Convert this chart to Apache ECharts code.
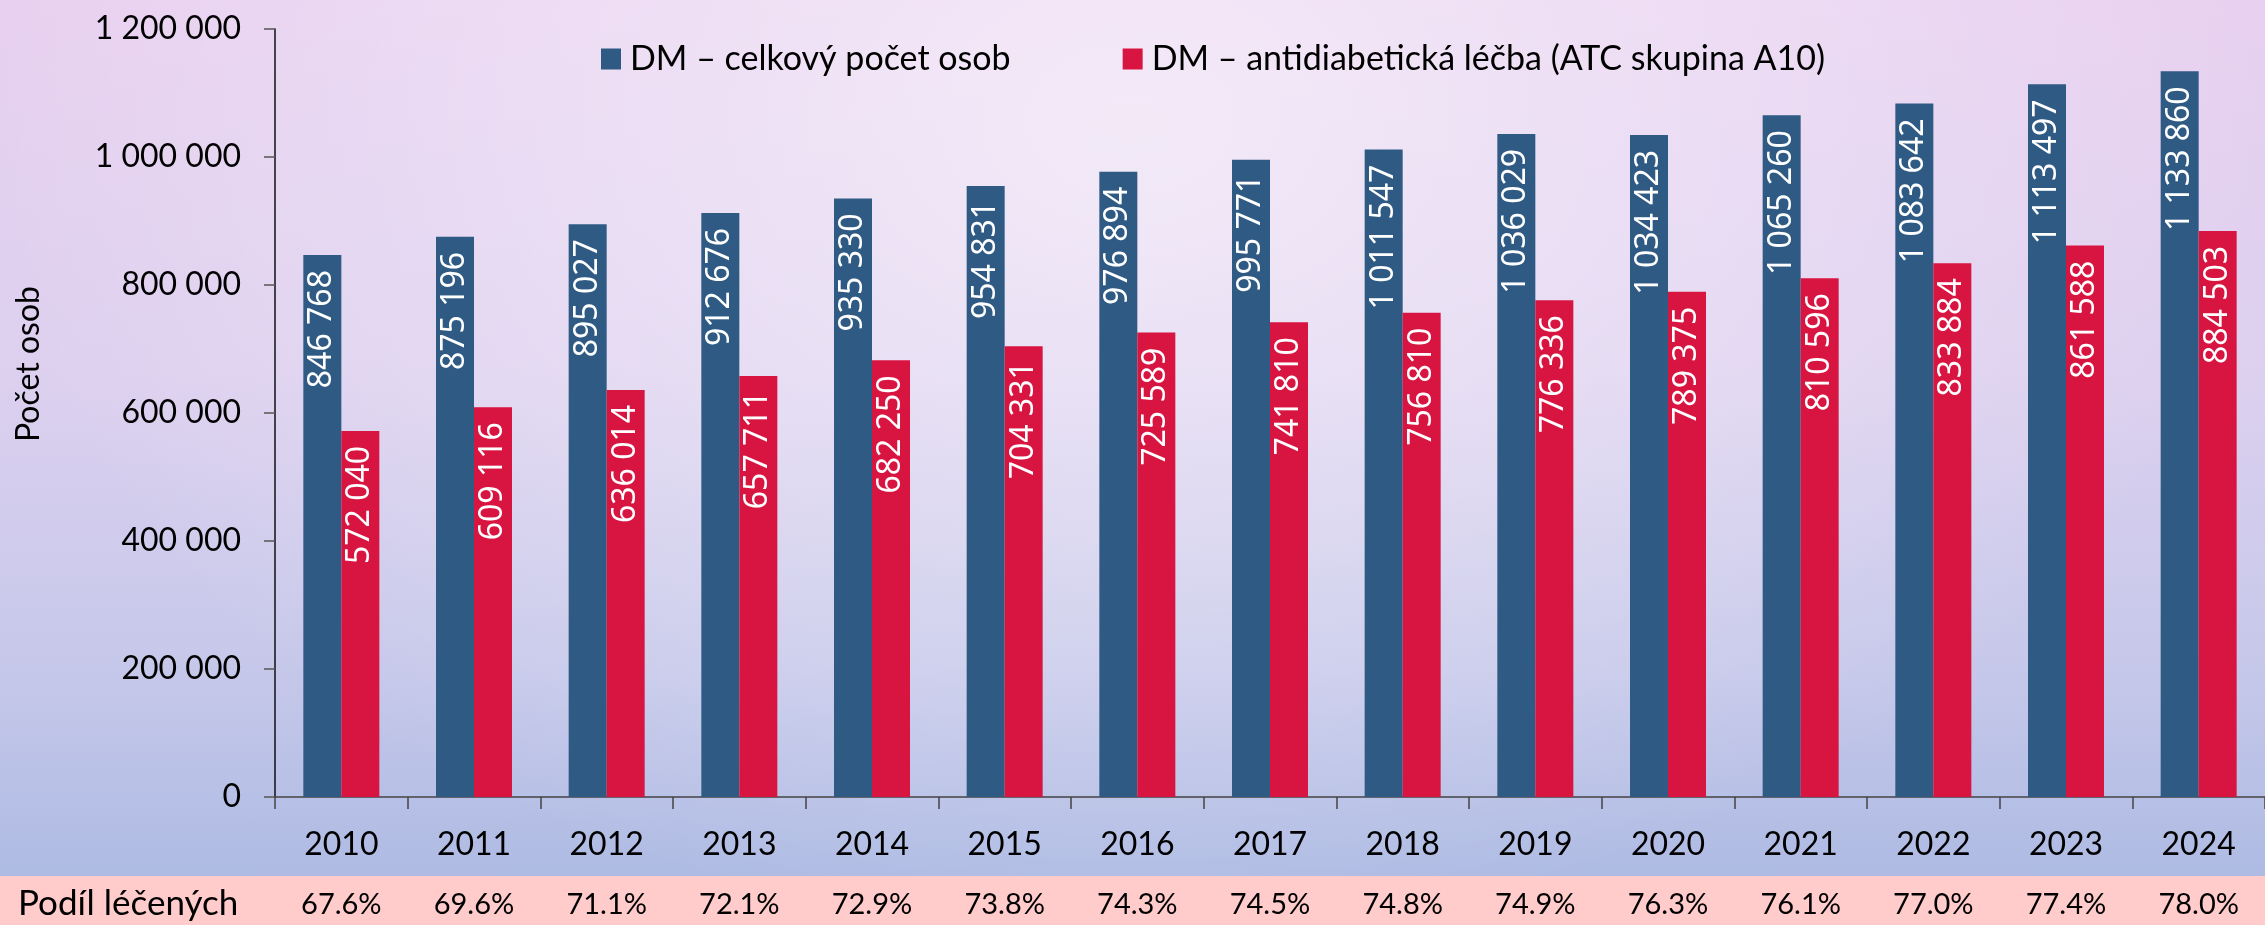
<!DOCTYPE html>
<html>

<head>
    <meta charset="utf-8">
    <script type="text/javascript" src="https://cdn.jsdelivr.net/npm/echarts@6/dist/echarts.min.js"></script>
    <style>
        html, body {
            margin: 0;
            padding: 0;
        }
        body {
            background:
                radial-gradient(ellipse 1150px 820px at 1130px 120px, rgba(255, 255, 255, 0.55), rgba(255, 255, 255, 0) 100%),
                linear-gradient(to bottom, #e8d0f0 0%, #ddd0ef 40%, #c6c8ea 72%, #a9b8e2 100%);
        }
    </style>
</head>

<body>
    <div id="container" style="height: 925px; width: 2265px;"></div>
    <script type="text/javascript">
    var years = ['2010', '2011', '2012', '2013', '2014', '2015', '2016', '2017',
                 '2018', '2019', '2020', '2021', '2022', '2023', '2024'];
    var totalPersons = [846768, 875196, 895027, 912676, 935330, 954831, 976894, 995771,
                        1011547, 1036029, 1034423, 1065260, 1083642, 1113497, 1133860];
    var treatedPersons = [572040, 609116, 636014, 657711, 682250, 704331, 725589, 741810,
                          756810, 776336, 789375, 810596, 833884, 861588, 884503];
    var treatedShare = ['67.6%', '69.6%', '71.1%', '72.1%', '72.9%', '73.8%', '74.3%', '74.5%',
                        '74.8%', '74.9%', '76.3%', '76.1%', '77.0%', '77.4%', '78.0%'];
    var seriesNames = ['DM – celkový počet osob', 'DM – antidiabetická léčba (ATC skupina A10)'];

    // mezera jako oddelovac tisicu
    function fmt(v) {
        return String(v).replace(/\B(?=(\d{3})+(?!\d))/g, ' ');
    }

    var textFont = 'Lato, sans-serif';
    var barLabel = {
        show: true,
        position: 'insideTop',
        rotate: 90,
        align: 'right',
        verticalAlign: 'middle',
        distance: 15,
        color: '#fff',
        fontFamily: '"Noto Sans", sans-serif',
        fontSize: 32,
        formatter: function (p) { return fmt(p.value); }
    };

    var dom = document.getElementById('container');
    var myChart = echarts.init(dom);

    var option = {
        animation: false,
        backgroundColor: 'transparent',
        textStyle: { fontFamily: textFont },
        legend: {
            left: 596,
            top: 37,
            icon: 'rect',
            itemWidth: 20,
            itemHeight: 21,
            itemGap: 112,
            textStyle: {
                fontSize: 34,
                color: '#000',
                fontFamily: textFont,
                padding: [0, 0, 0, 4]
            },
            data: seriesNames
        },
        grid: {
            left: 275,
            top: 29,
            width: 2001,
            height: 768
        },
        xAxis: [{
            type: 'category',
            data: years,
            axisLine: { lineStyle: { color: '#444', width: 1.5 } },
            axisTick: { show: true, length: 12, lineStyle: { color: '#444', width: 1.5 } },
            axisLabel: { color: '#000', fontSize: 32, margin: 32, fontFamily: textFont }
        }, {
            type: 'category',
            data: treatedShare,
            position: 'bottom',
            offset: 86,
            axisLine: { show: false },
            axisTick: { show: false },
            axisLabel: { color: '#000', fontSize: 29, margin: 7, fontFamily: textFont }
        }],
        yAxis: {
            type: 'value',
            min: 0,
            max: 1200000,
            interval: 200000,
            splitLine: { show: false },
            axisLine: { show: true, lineStyle: { color: '#111', width: 1.5 } },
            axisTick: { show: true, length: 11, lineStyle: { color: '#555', width: 1.5 } },
            axisLabel: {
                color: '#000',
                fontSize: 32,
                margin: 34,
                fontFamily: textFont,
                formatter: fmt
            }
        },
        graphic: [{
            type: 'rect',
            z: -10,
            shape: { x: 0, y: 876, width: 2265, height: 49 },
            style: { fill: '#ffcbcb' }
        }, {
            type: 'text',
            x: 18,
            y: 904,
            style: {
                text: 'Podíl léčených',
                font: '35px Lato, sans-serif',
                fill: '#000',
                textAlign: 'left',
                textVerticalAlign: 'middle'
            }
        }, {
            type: 'text',
            x: 29,
            y: 364,
            rotation: Math.PI / 2,
            style: {
                text: 'Počet osob',
                font: '32px Lato, sans-serif',
                fill: '#000',
                textAlign: 'center',
                textVerticalAlign: 'middle'
            }
        }],
        series: [{
            name: seriesNames[0],
            type: 'bar',
            data: totalPersons,
            barWidth: 38,
            barGap: '0%',
            itemStyle: { color: '#2e5a84' },
            label: barLabel
        }, {
            name: seriesNames[1],
            type: 'bar',
            data: treatedPersons,
            barWidth: 38,
            barGap: '0%',
            itemStyle: { color: '#d81440' },
            label: barLabel
        }]
    };

    myChart.setOption(option);
    </script>
</body>
</html>
